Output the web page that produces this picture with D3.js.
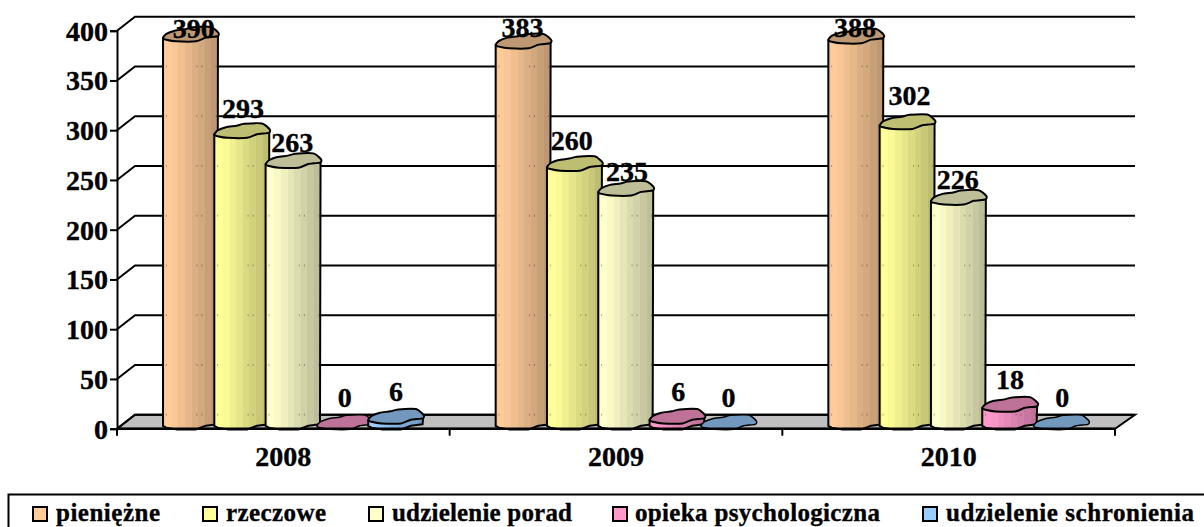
<!DOCTYPE html>
<html>
<head>
<meta charset="utf-8">
<script src="https://cdn.jsdelivr.net/npm/d3@7"></script>
<style>
  html, body { margin: 0; padding: 0; background: #fff; overflow: hidden; }
  text { font-family: "Liberation Serif", "Times New Roman", serif; font-weight: bold; fill: #000; stroke: #000; stroke-width: 0.35px; }
</style>
</head>
<body>
<div id="chart"></div>
<script>
const years = ['2008', '2009', '2010'];
const seriesNames = ['pieniężne', 'rzeczowe', 'udzielenie porad', 'opieka psychologiczna', 'udzielenie schronienia'];
const pieniezne = [390, 383, 388];
const rzeczowe = [293, 260, 302];
const porady = [263, 235, 226];
const opieka = [0, 6, 18];
const schronienie = [6, 0, 0];
const yTicks = [0, 50, 100, 150, 200, 250, 300, 350, 400];

const seriesValues = [pieniezne, rzeczowe, porady, opieka, schronienie];
const seriesColors = ['#ffcc99', '#ffff99', '#ffffcc', '#ff99cc', '#99ccff'];

// how far each value label sits above its value (the original labels were moved by hand)
const labelLift = [[3, 11, 6], [19, 20, 23], [15, 14, 15], [22, 22, 22], [22, 22, 22]];
const labelShift = [[3, -1, -1], [1, -3, 2], [-1, 1, -1], [0, 1, 0], [0, 0, 1]];

// legend layout
const legendSwatch = [33, 203, 369, 613, 923];
const legendText = [56, 226, 392, 635, 946];
const legendWidth = [104, 100, 180, 245, 248];

// rough outline of the cylinder cap, x in 0..1, y in -1..1
const capShape = [[0, .44], [.06, -.1], [.21, -.53], [.4, -.72], [.54, -.98], [.86, -1.02], [1, -.22], [.98, .22], [.77, .4], [.595, .89], [.24, .89], [.06, .67]];
const capLower = [[.06, .67], [.24, .89], [.595, .89], [.77, .4], [.98, .22]];
const bandFractions = [.05, .6, .69, .95];

const width = 1204;
const height = 527;
const depth = { x: 18, y: 14 };
const capRadius = 7.5;

const svg = d3.select('#chart').append('svg')
  .attr('width', width)
  .attr('height', height)
  .style('display', 'block');

const x0 = d3.scaleBand().domain(years).range([117, 1115]);
const x1 = d3.scaleBand().domain(seriesNames).range([46, 302.5]);
const barWidth = x1.bandwidth() + 4.2;
const y = d3.scaleLinear().domain([0, 400]).range([428.7, 30.7]);

// banded fill of the cylinder sides
const defs = svg.append('defs');
seriesColors.forEach((c, i) => {
  const dark = d3.rgb(c).darker(0.82).formatHex();
  const mix = d3.interpolateRgb(c, dark);
  const grad = defs.append('linearGradient').attr('id', `side-${i}`);
  const bands = [[0, .04, .12], [.04, .16, 0], [.16, .28, .1], [.28, .4, .25], [.4, .52, .4], [.52, .64, .55], [.64, .76, .7], [.76, .88, .85], [.88, 1, 1]];
  bands.forEach(b => {
    grad.append('stop').attr('offset', b[0]).attr('stop-color', mix(b[2]));
    grad.append('stop').attr('offset', b[1]).attr('stop-color', mix(b[2]));
  });
});

// floor
const back = svg.append('g').attr('class', 'walls');
back.append('path')
  .attr('d', d3.line()([[117, y(0)], [117 + depth.x, y(0) - depth.y], [1115 + depth.x + 2, y(0) - depth.y], [1115, y(0)]]) + 'Z')
  .attr('fill', '#c0c0c0')
  .attr('stroke', '#000')
  .attr('stroke-width', 2);

// grid lines with the diagonal on the side wall
yTicks.forEach(t => {
  back.append('path')
    .attr('d', d3.line()([[117, y(t)], [117 + depth.x, y(t) - depth.y], [1135, y(t) - depth.y]]))
    .attr('fill', 'none')
    .attr('stroke', '#000')
    .attr('stroke-width', 2);
});

const yAxis = svg.append('g')
  .attr('transform', 'translate(117,0)')
  .call(d3.axisLeft(y).tickValues(yTicks).tickSize(7).tickPadding(2));
yAxis.select('.domain').attr('stroke', '#000').attr('stroke-width', 2);
yAxis.selectAll('.tick line').attr('stroke', '#000').attr('stroke-width', 2);
yAxis.selectAll('.tick text').attr('font-size', 28).attr('dy', '0.34em');
yAxis.attr('font-family', null).attr('font-size', null);

const outline = d3.line().curve(d3.curveCardinalClosed.tension(0.35));
const capPath = (bx, cy) => outline(capShape.map(p => [bx + p[0] * barWidth, cy + p[1] * capRadius]));

const bodyPath = (bx, topY, baseY) => {
  const pts = [[bx, topY + .44 * capRadius], [bx, baseY + .44 * capRadius]];
  capLower.forEach(p => pts.push([bx + p[0] * barWidth, baseY + p[1] * capRadius]));
  pts.push([bx + .99 * barWidth, topY]);
  return d3.line()(pts) + 'Z';
};

// bars, drawn left to right so each one overlaps the previous
const bars = svg.append('g').attr('class', 'bars');
years.forEach((year, g) => {
  seriesNames.forEach((name, s) => {
    const v = seriesValues[s][g];
    const bx = x0(year) + x1(name);
    const cy = y(v) - 6;
    const baseY = y(0) - 6;
    const bar = bars.append('g');
    if (v > 0) {
      bar.append('path')
        .attr('d', bodyPath(bx, cy, baseY))
        .attr('fill', `url(#side-${s})`)
        .attr('stroke', '#000')
        .attr('stroke-width', 2)
        .attr('stroke-linejoin', 'round');
      // grid lines shine through the sides as faint specks
      yTicks.filter(t => y(t) - depth.y > cy + capRadius).forEach(t => {
        bandFractions.forEach(f => {
          bar.append('rect')
            .attr('x', bx + f * barWidth)
            .attr('y', y(t) - depth.y - 1)
            .attr('width', 1)
            .attr('height', 2)
            .attr('fill', '#000')
            .attr('opacity', 0.3);
        });
      });
    }
    bar.append('path')
      .attr('d', capPath(bx, cy))
      .attr('fill', d3.rgb(seriesColors[s]).darker(0.82).formatHex())
      .attr('stroke', '#000')
      .attr('stroke-width', v > 0 ? 2 : 1.5)
      .attr('stroke-linejoin', 'round');
  });
});

// value labels on top of everything
const labels = svg.append('g').attr('class', 'labels');
years.forEach((year, g) => {
  seriesNames.forEach((name, s) => {
    const v = seriesValues[s][g];
    labels.append('text')
      .attr('x', x0(year) + x1(name) + barWidth / 2 + labelShift[s][g])
      .attr('y', y(v) - labelLift[s][g])
      .attr('text-anchor', 'middle')
      .attr('font-size', 28)
      .text(v);
  });
});

// x axis front line, ticks between the groups and year labels
const xAxis = svg.append('g').attr('class', 'x-axis');
xAxis.append('line')
  .attr('x1', 117).attr('x2', 1115)
  .attr('y1', y(0)).attr('y2', y(0))
  .attr('stroke', '#000').attr('stroke-width', 2.5);
[...years.map(d => x0(d)), 1115].forEach(tx => {
  xAxis.append('line')
    .attr('x1', tx).attr('x2', tx)
    .attr('y1', y(0)).attr('y2', y(0) + 7)
    .attr('stroke', '#000').attr('stroke-width', 2);
});
xAxis.selectAll('text.year').data(years).join('text')
  .attr('class', 'year')
  .attr('x', d => x0(d) + x0.bandwidth() / 2)
  .attr('y', 466)
  .attr('text-anchor', 'middle')
  .attr('font-size', 28)
  .text(d => d);

// legend box runs off the bottom right of the page
const legend = svg.append('g').attr('class', 'legend');
legend.append('rect')
  .attr('x', 8.5).attr('y', 494.5)
  .attr('width', 1300).attr('height', 100)
  .attr('fill', 'none')
  .attr('stroke', '#000')
  .attr('stroke-width', 2);
seriesNames.forEach((name, i) => {
  legend.append('rect')
    .attr('x', legendSwatch[i]).attr('y', 507)
    .attr('width', 14).attr('height', 14)
    .attr('fill', seriesColors[i])
    .attr('stroke', '#000')
    .attr('stroke-width', 2);
  legend.append('text')
    .attr('x', legendText[i]).attr('y', 520.5)
    .attr('font-size', 25)
    .attr('textLength', legendWidth[i])
    .attr('lengthAdjust', 'spacing')
    .text(name);
});
</script>
</body>
</html>
